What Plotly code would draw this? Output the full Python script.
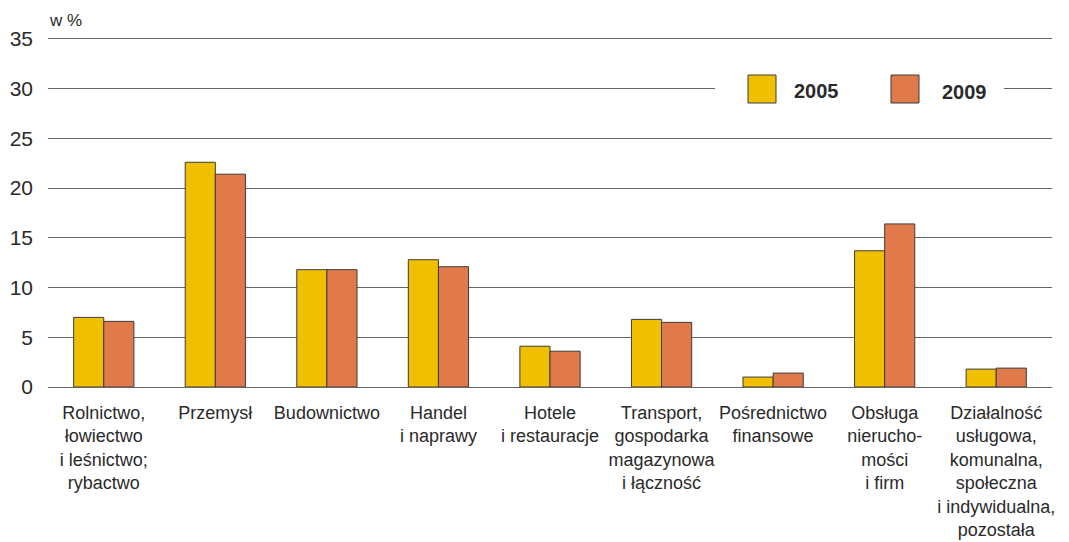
import plotly.graph_objects as go

categories = [
    "Rolnictwo,<br>łowiectwo<br>i leśnictwo;<br>rybactwo",
    "Przemysł",
    "Budownictwo",
    "Handel<br>i naprawy",
    "Hotele<br>i restauracje",
    "Transport,<br>gospodarka<br>magazynowa<br>i łączność",
    "Pośrednictwo<br>finansowe",
    "Obsługa<br>nierucho-<br>mości<br>i firm",
    "Działalność<br>usługowa,<br>komunalna,<br>społeczna<br>i indywidualna,<br>pozostała",
]
values_2005 = [7.0, 22.6, 11.8, 12.8, 4.1, 6.8, 1.0, 13.7, 1.8]
values_2009 = [6.6, 21.4, 11.8, 12.1, 3.6, 6.5, 1.4, 16.4, 1.9]
series_names = ["2005", "2009"]
y_ticks = [0, 5, 10, 15, 20, 25, 30, 35]

C2005 = "#F0C000"
C2009 = "#E17A4B"
OUTLINE = "#3c3c3c"
TEXT = "#2a2a2a"
GRID = "#666666"
FONT = "Liberation Sans, Arial, sans-serif"

fig = go.Figure()
fig.add_trace(go.Bar(x=categories, y=values_2005, name=series_names[0],
                     marker=dict(color=C2005, line=dict(color=OUTLINE, width=1))))
fig.add_trace(go.Bar(x=categories, y=values_2009, name=series_names[1],
                     marker=dict(color=C2009, line=dict(color=OUTLINE, width=1))))

# page body has an 8px margin, so the figure is drawn 8px right/down
W, H = 1061, 534
L, R, T, B = 40, 17, 28, 155
PW, PH = W - L - R, H - T - B
OFF = 8

def px(x):
    return (x - OFF - L) / PW

def py(y):
    return (H - B - (y - OFF)) / PH

shapes = [
    dict(type="rect", xref="paper", yref="paper", x0=px(715), x1=px(1004), y0=py(110), y1=py(70),
         fillcolor="white", line=dict(width=0), layer="above"),
    dict(type="rect", xref="paper", yref="paper", x0=px(748), x1=px(776), y0=py(103), y1=py(75),
         fillcolor=C2005, line=dict(color=OUTLINE, width=1), layer="above"),
    dict(type="rect", xref="paper", yref="paper", x0=px(891), x1=px(919), y0=py(103), y1=py(75),
         fillcolor=C2009, line=dict(color=OUTLINE, width=1), layer="above"),
]

annotations = [
    dict(text="<b>" + series_names[0] + "</b>", xref="paper", yref="paper", x=px(816), y=py(91),
         showarrow=False, font=dict(size=20, color=TEXT, family=FONT), xanchor="center", yanchor="middle"),
    dict(text="<b>" + series_names[1] + "</b>", xref="paper", yref="paper", x=px(964), y=py(92),
         showarrow=False, font=dict(size=20, color=TEXT, family=FONT), xanchor="center", yanchor="middle"),
    dict(text="w %", xref="paper", yref="paper", x=px(47), y=py(20),
         showarrow=False, font=dict(size=17, color=TEXT, family=FONT), xanchor="left", yanchor="middle"),
]

fig.update_layout(
    width=W, height=H,
    margin=dict(l=L, r=R, t=T, b=B),
    paper_bgcolor="white", plot_bgcolor="white",
    barmode="group", bargap=0.46, bargroupgap=0,
    showlegend=False,
    font=dict(family=FONT, color=TEXT),
    shapes=shapes,
    annotations=annotations,
    xaxis=dict(type="category", tickangle=0, ticks="", showgrid=False, showline=False,
               automargin=False,
               tickfont=dict(size=18, color=TEXT, family=FONT), ticklabelstandoff=13),
    yaxis=dict(range=[0, 35.3], tickvals=y_ticks, ticks="", showgrid=True, gridcolor=GRID,
               gridwidth=1, zeroline=True, zerolinecolor=GRID, zerolinewidth=1,
               showline=False, automargin=False,
               tickfont=dict(size=21, color=TEXT, family=FONT),
               ticklabelstandoff=14),
)

fig.write_html("out.html")
